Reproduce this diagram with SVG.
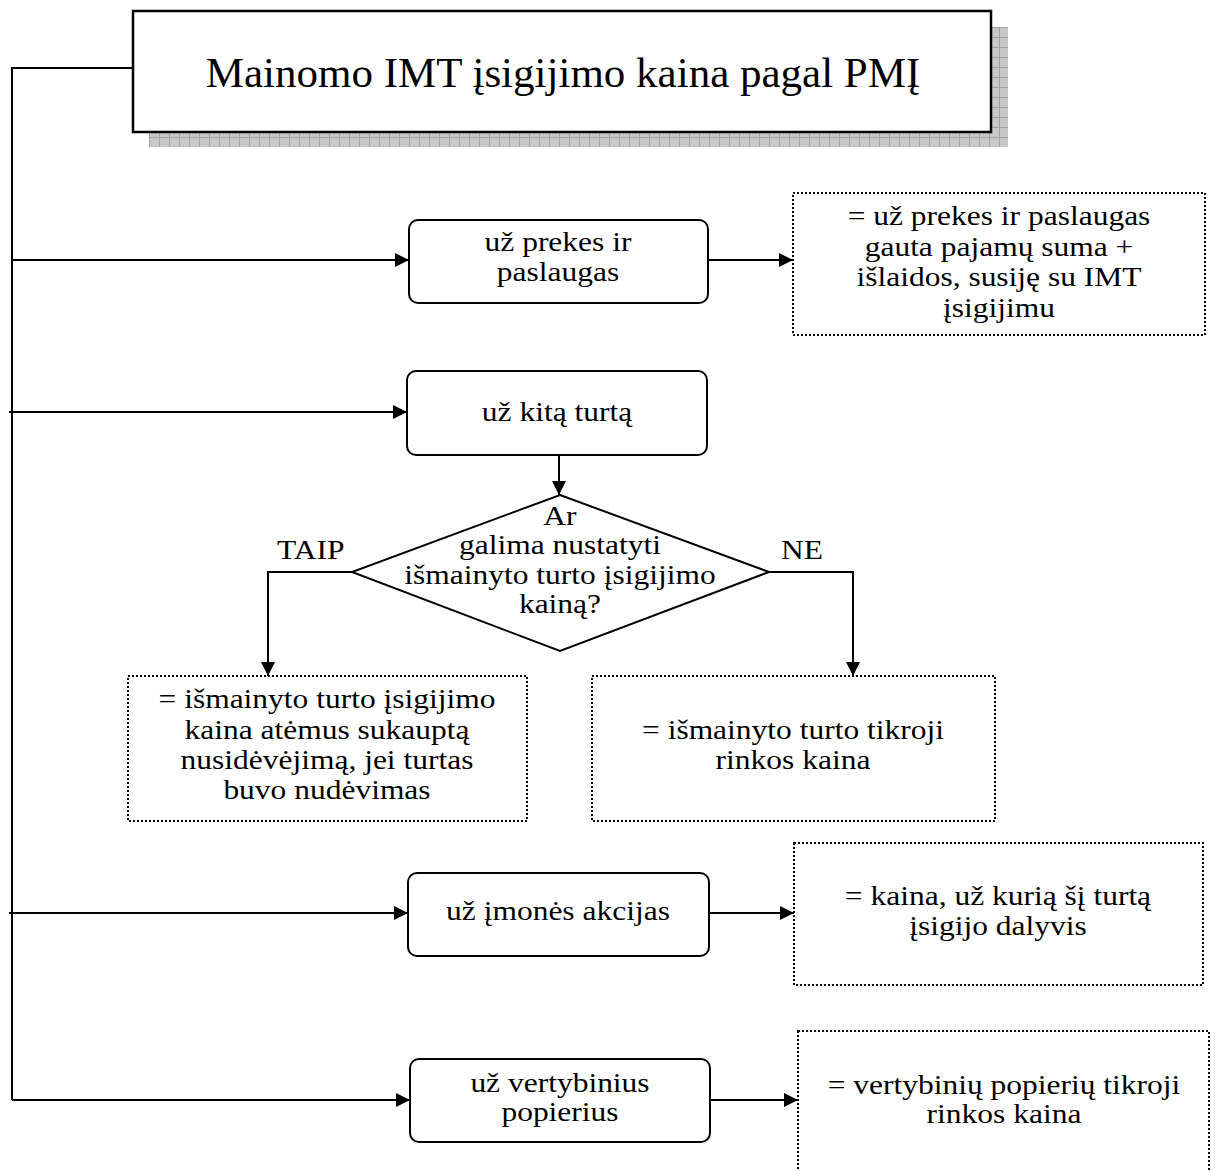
<svg xmlns="http://www.w3.org/2000/svg" width="1215" height="1171" viewBox="0 0 1215 1171">
  <style>
    text { font-family: "Liberation Serif", "Times New Roman", serif; fill: #000; text-anchor: middle; }
    /* body lines: slightly condensed vertically, each line scaled about its own box */
    .t { font-size: 31.5px; transform-box: fill-box; transform-origin: 50% 50%; transform: scaleY(0.86); }
    .title { font-size: 43px; }
    .lbl { text-anchor: start; }
    .step { fill: #fff; stroke: #000; stroke-width: 2; }
    .result { fill: #fff; stroke: #000; stroke-width: 2; stroke-dasharray: 2 2; }
    .wire { fill: none; stroke: #000; stroke-width: 2; }
    .arrow { marker-end: url(#head); }
  </style>
  <defs>
    <marker id="head" viewBox="0 0 14 14" refX="14" refY="7" markerWidth="14" markerHeight="14" markerUnits="userSpaceOnUse" orient="auto">
      <path d="M0,0 L14,7 L0,14 Z" fill="#000"/>
    </marker>
    <!-- grey grid fill for the title's drop shadow -->
    <pattern id="grid" width="10" height="10" patternUnits="userSpaceOnUse" x="149" y="27">
      <rect width="10" height="10" fill="#c8c8c8"/>
      <path d="M0,0.5 H10 M0.5,0 V10" stroke="#a2a2a2" stroke-width="1"/>
    </pattern>
  </defs>

  <!-- connectors -->
  <g id="connectors">
    <path class="wire" d="M133,68 H12 V1100"/>
    <path class="wire arrow" d="M12,260 H409"/>
    <path class="wire arrow" d="M9,412 H407"/>
    <path class="wire arrow" d="M9,913 H408"/>
    <path class="wire arrow" d="M12,1100 H410"/>
    <path class="wire arrow" d="M708,260 H793"/>
    <path class="wire arrow" d="M709,913 H794"/>
    <path class="wire arrow" d="M710,1100 H798"/>
    <path class="wire arrow" d="M559,455 V495"/>
    <path class="wire arrow" d="M352,572 H268 V676"/>
    <path class="wire arrow" d="M769,572 H853 V676"/>
  </g>

  <!-- title -->
  <g id="title">
    <rect x="149" y="27" width="859" height="120" fill="url(#grid)"/>
    <rect x="133" y="11" width="858" height="121" fill="#fff" stroke="#000" stroke-width="2.5"/>
    <text class="title" x="563" y="87">Mainomo IMT įsigijimo kaina pagal PMĮ</text>
  </g>

  <!-- goods and services -->
  <g id="goods">
    <rect class="step" x="409" y="220" width="299" height="83" rx="9"/>
    <text class="t" x="558" y="253">už prekes ir</text>
    <text class="t" x="558" y="283">paslaugas</text>
  </g>
  <g id="goods-value">
    <rect class="result" x="793" y="193" width="412" height="142"/>
    <text class="t" x="999" y="227">= už prekes ir paslaugas</text>
    <text class="t" x="999" y="258">gauta pajamų suma +</text>
    <text class="t" x="999" y="288">išlaidos, susiję su IMT</text>
    <text class="t" x="999" y="319">įsigijimu</text>
  </g>

  <!-- other assets -->
  <g id="other-assets">
    <rect class="step" x="407" y="371" width="300" height="84" rx="9"/>
    <text class="t" x="557" y="423">už kitą turtą</text>
  </g>
  <g id="decision">
    <polygon class="step" points="560,495 769,572 560,651 352,572"/>
    <text class="t" x="560" y="527">Ar</text>
    <text class="t" x="560" y="556">galima nustatyti</text>
    <text class="t" x="560" y="586">išmainyto turto įsigijimo</text>
    <text class="t" x="560" y="615">kainą?</text>
  </g>
  <g id="yes-label"><text class="t lbl" x="277" y="561">TAIP</text></g>
  <g id="no-label"><text class="t lbl" x="781" y="561">NE</text></g>
  <g id="yes-value">
    <rect class="result" x="128" y="676" width="399" height="145"/>
    <text class="t" x="327" y="710">= išmainyto turto įsigijimo</text>
    <text class="t" x="327" y="741">kaina atėmus sukauptą</text>
    <text class="t" x="327" y="771">nusidėvėjimą, jei turtas</text>
    <text class="t" x="327" y="801">buvo nudėvimas</text>
  </g>
  <g id="no-value">
    <rect class="result" x="592" y="676" width="403" height="145"/>
    <text class="t" x="793" y="741">= išmainyto turto tikroji</text>
    <text class="t" x="793" y="771">rinkos kaina</text>
  </g>

  <!-- company shares -->
  <g id="shares">
    <rect class="step" x="408" y="873" width="301" height="83" rx="9"/>
    <text class="t" x="558" y="922">už įmonės akcijas</text>
  </g>
  <g id="shares-value">
    <rect class="result" x="794" y="843" width="409" height="142"/>
    <text class="t" x="998" y="907">= kaina, už kurią šį turtą</text>
    <text class="t" x="998" y="937">įsigijo dalyvis</text>
  </g>

  <!-- securities -->
  <g id="securities">
    <rect class="step" x="410" y="1059" width="300" height="83" rx="9"/>
    <text class="t" x="560" y="1094">už vertybinius</text>
    <text class="t" x="560" y="1123">popierius</text>
  </g>
  <g id="securities-value">
    <rect class="result" x="798" y="1031" width="411" height="170"/>
    <text class="t" x="1004" y="1096">= vertybinių popierių tikroji</text>
    <text class="t" x="1004" y="1125">rinkos kaina</text>
  </g>
</svg>
